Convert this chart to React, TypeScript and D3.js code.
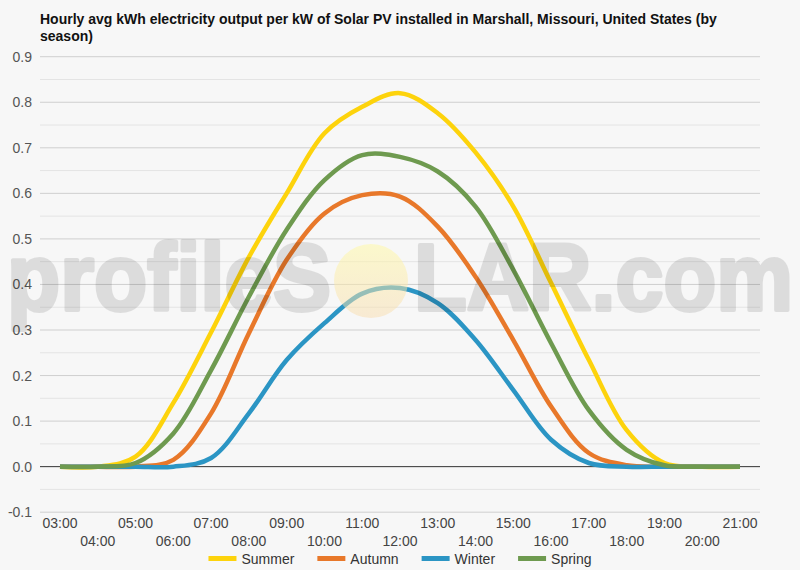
import * as d3 from 'd3'

// hourly axis, 03:00 .. 21:00
const hours = d3.range(3, 22)
const hourLabels = hours.map((h) => `${String(h).padStart(2, '0')}:00`)

const summer = [0, 0, 0.022, 0.14, 0.295, 0.46, 0.6, 0.732, 0.79, 0.82, 0.776, 0.69, 0.571, 0.403, 0.234, 0.08, 0.008, 0, 0]
const autumn = [0, 0, 0, 0.015, 0.117, 0.293, 0.454, 0.556, 0.596, 0.593, 0.527, 0.417, 0.278, 0.132, 0.03, 0.003, 0, 0, 0]
const winter = [0, 0, 0, 0, 0.019, 0.117, 0.234, 0.315, 0.38, 0.392, 0.359, 0.278, 0.168, 0.059, 0.008, 0, 0, 0, 0]
const spring = [0, 0, 0.008, 0.073, 0.212, 0.373, 0.52, 0.629, 0.684, 0.68, 0.648, 0.571, 0.432, 0.271, 0.124, 0.037, 0.003, 0, 0]

const seriesNames = ['Summer', 'Autumn', 'Winter', 'Spring']
const seriesValues = [summer, autumn, winter, spring]
const seriesColors = ['#fdd30c', '#e8782a', '#2b95c4', '#6e9a4f']

const yTicks = d3.range(-0.1, 0.91, 0.1).map((v) => Math.round(v * 10) / 10)

const W = 800
const H = 570
const FONT = '"Liberation Sans", Arial, sans-serif'

const measure = (text: string, font: string) => {
  const ctx = document.createElement('canvas').getContext('2d')
  if (!ctx) return text.length * 7
  ctx.font = font
  return ctx.measureText(text).width
}

const App = () => {
  const x = d3.scaleLinear().domain([3, 21]).range([60, 740])
  const y = d3.scaleLinear().domain([-0.1, 0.9]).range([512.2, 56.7])
  const gridLeft = 40
  const gridRight = 760

  const line = d3
    .line<number>()
    .x((_, i) => x(hours[i]))
    .y((d) => y(d))
    .curve(d3.curveCatmullRom.alpha(0.5))

  const minorTicks = yTicks.slice(0, -1).map((v) => v + 0.05)

  // legend layout, centred under the plot
  const legendFont = `14px ${FONT}`
  const swatch = 28
  const items = seriesNames.map((n) => swatch + 5 + measure(n, legendFont))
  const gap = 23
  const total = d3.sum(items) + gap * (items.length - 1)
  let lx = W / 2 - total / 2
  const legendX = items.map((w) => {
    const p = lx
    lx += w + gap
    return p
  })

  return (
    <div style={{ position: 'absolute', left: 0, top: 0 }}>
      <svg width={W} height={H} style={{ display: 'block' }} fontFamily={FONT}>
        <defs>
          <linearGradient id="sun" x1="0" y1="0" x2="0" y2="1">
            <stop offset="0%" stopColor="#fff9a8" stopOpacity={0.55} />
            <stop offset="100%" stopColor="#f8dcae" stopOpacity={0.5} />
          </linearGradient>
        </defs>
        <rect width={W} height={H} fill="#f7f7f7" />

        <text x={40} y={24} fontSize={14} fontWeight="bold" fill="#111">
          Hourly avg kWh electricity output per kW of Solar PV installed in Marshall, Missouri, United States (by
        </text>
        <text x={40} y={41} fontSize={14} fontWeight="bold" fill="#111">
          season)
        </text>

        {minorTicks.map((t) => (
          <line key={`m${t}`} x1={gridLeft} x2={gridRight} y1={y(t)} y2={y(t)} stroke="#e4e4e4" strokeWidth={1} />
        ))}
        {yTicks.map((t) => (
          <g key={`t${t}`}>
            <line
              x1={gridLeft}
              x2={gridRight}
              y1={y(t)}
              y2={y(t)}
              stroke={t === 0 ? '#333' : '#cfcfcf'}
              strokeWidth={1}
            />
            <text x={32} y={y(t) + 5} textAnchor="end" fontSize={14} fill="#555">
              {t.toFixed(1)}
            </text>
          </g>
        ))}

        {hourLabels.map((lab, i) => (
          <text
            key={lab}
            x={x(hours[i])}
            y={i % 2 === 0 ? 528 : 546}
            textAnchor="middle"
            fontSize={14}
            fill="#444"
          >
            {lab}
          </text>
        ))}

        {seriesValues.map((vals, i) => (
          <path
            key={seriesNames[i]}
            d={line(vals) ?? ''}
            fill="none"
            stroke={seriesColors[i]}
            strokeWidth={4.5}
            strokeLinejoin="round"
          />
        ))}

        {seriesNames.map((n, i) => (
          <g key={`l${n}`} transform={`translate(${legendX[i]},558.5)`}>
            <line x1={0} x2={swatch} y1={0} y2={0} stroke={seriesColors[i]} strokeWidth={5} />
            <text x={swatch + 5} y={5} fontSize={14} fill="#333">
              {n}
            </text>
          </g>
        ))}

        {/* watermark */}
        <g pointerEvents="none">
          <g opacity={0.1} fill="#000" stroke="#000" strokeWidth={4} strokeLinejoin="round" fontSize={95} fontWeight="bold">
            <text x={7} y={310} textLength={324} lengthAdjust="spacingAndGlyphs">
              profileS
            </text>
            <text x={414} y={310} textLength={379} lengthAdjust="spacingAndGlyphs">
              LAR.com
            </text>
          </g>
          <circle cx={371} cy={281} r={37} fill="url(#sun)" />
        </g>
      </svg>
    </div>
  )
}

export default App
